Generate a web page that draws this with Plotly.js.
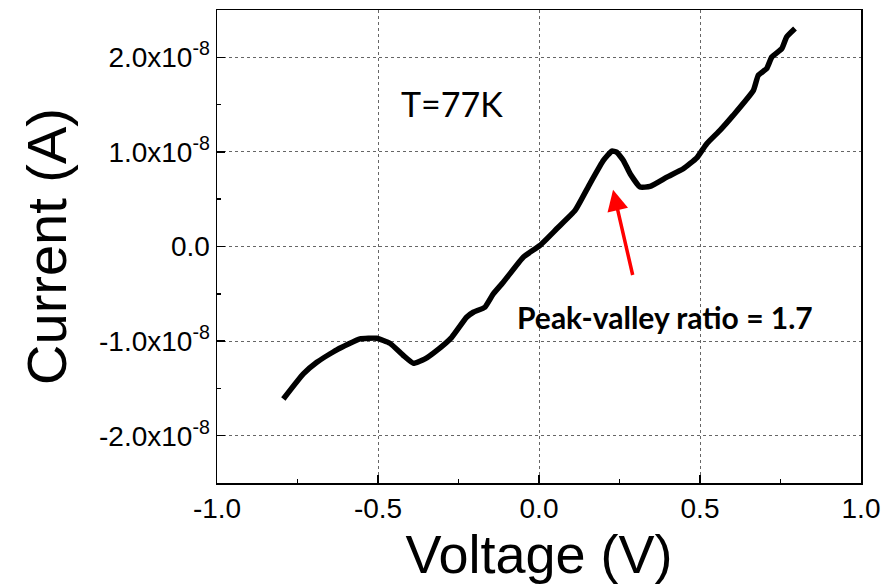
<!DOCTYPE html>
<html>
<head>
<meta charset="utf-8">
<script src="https://cdn.plot.ly/plotly-3.0.1.min.js"></script>
<style>html,body{margin:0;padding:0;background:#fff;}#chart{width:885px;height:588px;}</style>
</head>
<body>
<div id="chart"></div>
<script>
// Voltage (V)
const voltage = [-0.794,-0.732,-0.690,-0.628,-0.556,-0.504,-0.463,-0.421,-0.390,-0.354,-0.318,-0.271,-0.225,-0.204,-0.168,-0.142,-0.111,-0.049,0.003,0.055,0.112,0.158,0.200,0.226,0.241,0.262,0.283,0.314,0.345,0.397,0.448,0.490,0.521,0.562,0.603,0.666,0.681,0.707,0.723,0.754,0.769,0.795];
// Current (units of 1e-8 A)
const currentE8 = [-1.612,-1.347,-1.224,-1.093,-0.977,-0.970,-1.023,-1.153,-1.235,-1.188,-1.101,-0.960,-0.748,-0.695,-0.642,-0.501,-0.378,-0.113,0.011,0.187,0.381,0.663,0.910,1.008,0.998,0.910,0.769,0.628,0.635,0.733,0.822,0.937,1.087,1.228,1.386,1.651,1.810,1.880,2.003,2.092,2.215,2.304];
const yTickVals = [-2e-8,-1e-8,0,1e-8,2e-8];
const yTickText = ["-2.0x10<sup>-8</sup>","-1.0x10<sup>-8</sup>","0.0","1.0x10<sup>-8</sup>","2.0x10<sup>-8</sup>"];
const xTickVals = [-1.0,-0.5,0.0,0.5,1.0];
const xTickText = ["-1.0","-0.5","0.0","0.5","1.0"];

const current = currentE8.map(v => v * 1e-8);

const trace = {
  x: voltage, y: current, mode: 'lines', type: 'scatter',
  line: {color: '#000', width: 5.5, shape: 'spline', smoothing: 0.4},
  hoverinfo: 'skip', showlegend: false
};

const baseFont = {family: 'Liberation Sans, Arial, sans-serif', color: '#000'};

const layout = {
  width: 885, height: 588,
  margin: {l: 217, r: 24, t: 10, b: 105, pad: 0},
  paper_bgcolor: '#fff', plot_bgcolor: '#fff',
  showlegend: false,
  xaxis: {
    range: [-1, 1], tickvals: xTickVals, ticktext: xTickText,
    ticks: 'inside', ticklen: 8, tickwidth: 1.5, tickcolor: '#000',
    showline: true, linecolor: '#000', linewidth: 1.5, mirror: true,
    showgrid: true, gridcolor: '#666', gridwidth: 1, griddash: '3px,3px',
    zeroline: false,
    minor: {ticks: 'inside', ticklen: 4, tickwidth: 1.5, tickcolor: '#000', dtick: 0.25, tick0: 0, showgrid: false},
    tickfont: Object.assign({size: 28}, baseFont),
    title: {text: 'Voltage (V)', font: Object.assign({size: 54}, baseFont), standoff: 2}
  },
  yaxis: {
    range: [-2.5e-8, 2.5e-8], tickvals: yTickVals, ticktext: yTickText,
    ticks: 'inside', ticklen: 8, tickwidth: 1.5, tickcolor: '#000',
    showline: true, linecolor: '#000', linewidth: 1.5, mirror: true,
    showgrid: true, gridcolor: '#666', gridwidth: 1, griddash: '3px,3px',
    zeroline: false,
    minor: {ticks: 'inside', ticklen: 4, tickwidth: 1.5, tickcolor: '#000', dtick: 0.5e-8, tick0: 0, showgrid: false},
    tickfont: Object.assign({size: 28}, baseFont),
    title: {text: 'Current (A)', font: Object.assign({size: 56}, baseFont), standoff: 14}
  },
  annotations: [
    {x: -0.27, y: 1.513e-8, xref: 'x', yref: 'y', text: 'T=77K', showarrow: false,
     font: {family: 'Lato, sans-serif', size: 34, color: '#000'}},
    {x: 0.391, y: -0.741e-8, xref: 'x', yref: 'y', text: '<b>Peak-valley ratio = 1.7</b>', showarrow: false,
     font: {family: 'Lato, sans-serif', size: 30, color: '#000'}},
    {x: 0.230, y: 0.600e-8, xref: 'x', yref: 'y', ax: 0.292, ay: -0.317e-8, axref: 'x', ayref: 'y',
     text: '', showarrow: true, arrowhead: 2, arrowsize: 1.2, arrowwidth: 3.5, arrowcolor: '#ff0000'}
  ]
};

Plotly.newPlot('chart', [trace], layout, {displayModeBar: false, staticPlot: true});
</script>
</body>
</html>
